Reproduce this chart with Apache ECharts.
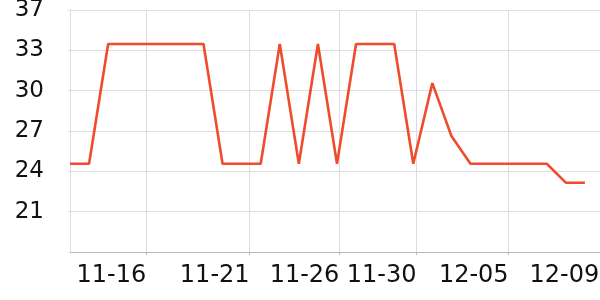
<!DOCTYPE html>
<html><head><meta charset="utf-8">
<script src="https://cdn.jsdelivr.net/npm/echarts@6/dist/echarts.min.js"></script>
<style>html,body{margin:0;padding:0;background:#fff}#c{width:600px;height:300px}</style>
</head><body><div id="c"></div>
<script>
// ---- data ----
const dates = [
  '2023-11-12','2023-11-13','2023-11-14','2023-11-15','2023-11-16','2023-11-17','2023-11-18',
  '2023-11-19','2023-11-20','2023-11-21','2023-11-22','2023-11-23','2023-11-24','2023-11-25',
  '2023-11-26','2023-11-27','2023-11-28','2023-11-29','2023-11-30','2023-12-01','2023-12-02',
  '2023-12-03','2023-12-04','2023-12-05','2023-12-06','2023-12-07','2023-12-08','2023-12-09'
];
const values = [
  24.4, 24.4, 33.9, 33.9, 33.9, 33.9, 33.9,
  33.9, 24.4, 24.4, 24.4, 33.9, 24.4, 33.9,
  24.4, 33.9, 33.9, 33.9, 24.4, 30.8, 26.6,
  24.4, 24.4, 24.4, 24.4, 24.4, 22.9, 22.9
];
// x-axis tick / label positions (as times)
const xTickTimes = ['2023-11-16 00:00','2023-11-21 10:00','2023-11-26 03:00','2023-11-30 04:00','2023-12-05 00:00'];
const xLabelTimes = ['2023-11-16 00:00','2023-11-21 10:00','2023-11-26 03:00','2023-11-30 04:00','2023-12-05 00:00','2023-12-09 18:00'];
const xMin = '2023-11-12 00:00';
const xMax = '2023-12-09 19:00';
// y-axis
const yMin = 17.4, yMax = 36.6, yStep = 3.2;

function parseT(s) {
  const parts = s.split(' ');
  const d = parts[0].split('-').map(Number);
  const t = (parts[1] || '00:00').split(':').map(Number);
  return new Date(d[0], d[1] - 1, d[2], t[0], t[1]).getTime();
}
function pad(n) { return (n < 10 ? '0' : '') + n; }

const chart = echarts.init(document.getElementById('c'), null, {renderer: 'canvas'});
const font = 'DejaVu Sans';
chart.setOption({
  animation: false,
  backgroundColor: '#fff',
  grid: {left: 70, right: 0, top: 10, bottom: 48, containLabel: false, outerBoundsMode: 'none'},
  xAxis: {
    type: 'value',
    min: parseT(xMin),
    max: parseT(xMax),
    axisLine: {show: true, lineStyle: {color: '#b8b8b8', width: 1}},
    axisTick: {show: true, length: 3, lineStyle: {color: '#b8b8b8'}, customValues: xTickTimes.map(parseT)},
    splitLine: {show: true, lineStyle: {color: '#dddddd', width: 1}},
    axisLabel: {
      customValues: xLabelTimes.map(parseT),
      align: 'right',
      margin: 12,
      color: '#111',
      fontFamily: font,
      fontSize: 24,
      hideOverlap: false,
      formatter: function (v) { const d = new Date(v); return pad(d.getMonth() + 1) + '-' + pad(d.getDate()); }
    }
  },
  yAxis: {
    type: 'value',
    min: yMin, max: yMax, interval: yStep,
    axisLine: {show: true, lineStyle: {color: '#dddddd', width: 1}},
    axisTick: {show: true, length: 2, lineStyle: {color: '#dddddd'}},
    splitLine: {show: true, lineStyle: {color: '#dddddd', width: 1}},
    axisLabel: {
      showMinLabel: false,
      margin: 26,
      color: '#111',
      fontFamily: font,
      fontSize: 23,
      formatter: function (v) { return String(Math.round(v)); }
    }
  },
  series: [{
    type: 'line',
    data: dates.map(function (d, i) { return [parseT(d), values[i]]; }),
    symbol: 'none',
    lineStyle: {color: '#ee4c2c', width: 2.6},
    itemStyle: {color: '#ee4c2c'}
  }]
});
</script>
</body></html>
